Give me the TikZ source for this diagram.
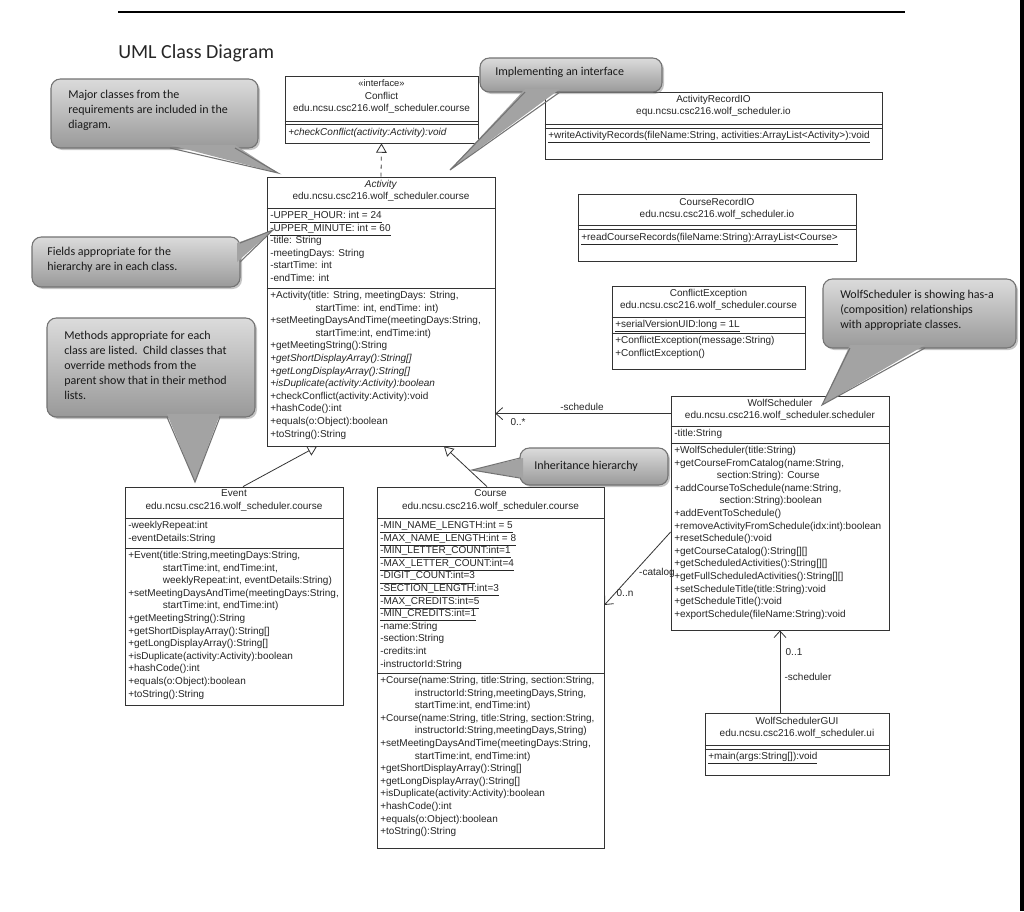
\documentclass[tikz,border=0pt]{standalone}
\usepackage{fontspec}
\usetikzlibrary{arrows.meta,fit,calc,shadows}
\newfontfamily\umlff{Liberation Sans}
\newfontfamily\calff{Carlito}
\newcommand\uf{\umlff\fontsize{7.5}{9.45}\selectfont}
\newcommand\cf{\calff\fontsize{9}{11.3}\selectfont}
\newcommand\cbox[5]{\node[cls, fit={(#2,#3) (#4,#5)}] (#1) {};}
\newcommand\csep[2]{\draw[clsline] (#1.west |- 0,#2) -- (#1.east |- 0,#2);}
\begin{document}
\begin{tikzpicture}[x=0.75pt,y=-0.75pt,
  cls/.style={draw=black!80, line width=0.6pt, inner sep=0pt},
  clsline/.style={draw=black!80, line width=0.6pt},
  uml/.style={font=\uf, inner sep=0pt, align=left, text=black!85},
  umlc/.style={font=\uf, inner sep=0pt, align=center, text=black!85},
  inh/.style={draw=black!80, line width=0.6pt, -{Triangle[open,length=7pt,width=8pt]}},
  assoc/.style={draw=black!80, line width=0.6pt, -{Straight Barb[length=5pt,width=9pt]}},
  lbl/.style={font=\uf, inner sep=0pt, text=black!85},
  call/.style={draw=black!55, line width=0.8pt, rounded corners=7pt, top color=black!14, bottom color=black!40, drop shadow={opacity=0.45, shadow xshift=1.5pt, shadow yshift=-1.5pt}},
  ptr/.style={fill=black!36},
  ptre/.style={draw=black!55, line width=0.8pt},
  ctext/.style={font=\cf, inner sep=0pt, align=left, text=black!90}]
\useasboundingbox[fill=white] (0,0) rectangle (1024,911);
\draw[line width=1pt] (118,12) -- (905,12);
\draw[line width=3pt] (1022,0) -- (1022,911);
\node[anchor=base west, inner sep=0pt, font=\calff\fontsize{15}{18}\selectfont, text=black!85] (title) at (118,58) {UML Class Diagram};

% ---------- Conflict
\cbox{conf}{285}{76}{478}{143}
\csep{conf}{121}\csep{conf}{124}
\node[umlc, anchor=north] at ($(conf.north)+(0,4)$) {\fontsize{7}{9.45}\selectfont «interface»\\Conflict\\edu.ncsu.csc216.wolf\_scheduler.course};
\node[uml, anchor=north west] at (288,128) {\textit{+checkConflict(activity:Activity):void}};

% ---------- Activity
\cbox{act}{267}{177}{495}{446}
\csep{act}{208}\csep{act}{288}
\node[umlc, anchor=north] at ($(act.north)+(0,3)$) {\textit{Activity}\\edu.ncsu.csc216.wolf\_scheduler.course};
\node[uml, anchor=north west] at (270,211) {\underline{-UPPER\_HOUR: int = 24}\\\underline{-UPPER\_MINUTE: int = 60}\\-title: String\\-meetingDays: String\\-startTime: int\\-endTime: int};
\node[uml, anchor=north west] at (270,291) {+Activity(title: String, meetingDays: String,\\\hspace*{34pt}startTime: int, endTime: int)\\+setMeetingDaysAndTime(meetingDays:String,\\\hspace*{34pt}startTime:int, endTime:int)\\+getMeetingString():String\\\textit{+getShortDisplayArray():String[]}\\\textit{+getLongDisplayArray():String[]}\\\textit{+isDuplicate(activity:Activity):boolean}\\+checkConflict(activity:Activity):void\\+hashCode():int\\+equals(o:Object):boolean\\+toString():String};

% ---------- ActivityRecordIO
\cbox{ario}{545}{92}{882}{159}
\csep{ario}{124}\csep{ario}{128}
\node[umlc, anchor=north] at ($(ario.north)+(0,3)$) {ActivityRecordIO\\equ.ncsu.csc216.wolf\_scheduler.io};
\node[uml, anchor=north west] at (548,131) {\underline{+writeActivityRecords(fileName:String, activities:ArrayList<Activity>):void}};

% ---------- CourseRecordIO
\cbox{crio}{578}{194}{856}{261}
\csep{crio}{225}\csep{crio}{229}
\node[umlc, anchor=north] at ($(crio.north)+(0,4)$) {CourseRecordIO\\edu.ncsu.csc216.wolf\_scheduler.io};
\node[uml, anchor=north west] at (581,233) {\underline{+readCourseRecords(fileName:String):ArrayList<Course>}};

% ---------- ConflictException
\cbox{cex}{612}{286}{805}{369}
\csep{cex}{317}\csep{cex}{333}
\node[umlc, anchor=north] at ($(cex.north)+(0,3)$) {ConflictException\\edu.ncsu.csc216.wolf\_scheduler.course};
\node[uml, anchor=north west] at (615,320) {\underline{+serialVersionUID:long = 1L}};
\node[uml, anchor=north west] at (615,336) {+ConflictException(message:String)\\+ConflictException()};

% ---------- WolfScheduler
\cbox{ws}{671}{396}{889}{630}
\csep{ws}{426}\csep{ws}{443}
\node[umlc, anchor=north] at ($(ws.north)+(0,3)$) {WolfScheduler\\edu.ncsu.csc216.wolf\_scheduler.scheduler};
\node[uml, anchor=north west] at (674,429) {-title:String};
\node[uml, anchor=north west] at (674,446) {+WolfScheduler(title:String)\\+getCourseFromCatalog(name:String,\\\hspace*{32pt}section:String): Course\\+addCourseToSchedule(name:String,\\\hspace*{34pt}section:String):boolean\\+addEventToSchedule()\\+removeActivityFromSchedule(idx:int):boolean\\+resetSchedule():void\\+getCourseCatalog():String[][]\\+getScheduledActivities():String[][]\\+getFullScheduledActivities():String[][]\\+setScheduleTitle(title:String):void\\+getScheduleTitle():void\\+exportSchedule(fileName:String):void};

% ---------- WolfSchedulerGUI
\cbox{gui}{705}{713}{889}{775}
\csep{gui}{745}\csep{gui}{749}
\node[umlc, anchor=north] at ($(gui.north)+(0,4)$) {WolfSchedulerGUI\\edu.ncsu.csc216.wolf\_scheduler.ui};
\node[uml, anchor=north west] at (708,752) {\underline{+main(args:String[]):void}};

% ---------- Event
\cbox{ev}{125}{487}{343}{705}
\csep{ev}{518}\csep{ev}{548}
\node[umlc, anchor=north] at ($(ev.north)+(0,3)$) {Event\\edu.ncsu.csc216.wolf\_scheduler.course};
\node[uml, anchor=north west] at (128,521) {-weeklyRepeat:int\\-eventDetails:String};
\node[uml, anchor=north west] at (128,551) {+Event(title:String,meetingDays:String,\\\hspace*{26pt}startTime:int, endTime:int,\\\hspace*{26pt}weeklyRepeat:int, eventDetails:String)\\+setMeetingDaysAndTime(meetingDays:String,\\\hspace*{26pt}startTime:int, endTime:int)\\+getMeetingString():String\\+getShortDisplayArray():String[]\\+getLongDisplayArray():String[]\\+isDuplicate(activity:Activity):boolean\\+hashCode():int\\+equals(o:Object):boolean\\+toString():String};

% ---------- Course
\cbox{crs}{377}{487}{604}{848}
\csep{crs}{518}\csep{crs}{673}
\node[umlc, anchor=north] at ($(crs.north)+(0,3)$) {Course\\edu.ncsu.csc216.wolf\_scheduler.course};
\node[uml, anchor=north west] at (380,521) {\underline{-MIN\_NAME\_LENGTH:int = 5}\\\underline{-MAX\_NAME\_LENGTH:int = 8}\\\underline{-MIN\_LETTER\_COUNT:int=1}\\\underline{-MAX\_LETTER\_COUNT:int=4}\\\underline{-DIGIT\_COUNT:int=3}\\\underline{-SECTION\_LENGTH:int=3}\\\underline{-MAX\_CREDITS:int=5}\\\underline{-MIN\_CREDITS:int=1}\\-name:String\\-section:String\\-credits:int\\-instructorId:String};
\node[uml, anchor=north west] at (380,676) {+Course(name:String, title:String, section:String,\\\hspace*{26pt}instructorId:String,meetingDays,String,\\\hspace*{26pt}startTime:int, endTime:int)\\+Course(name:String, title:String, section:String,\\\hspace*{26pt}instructorId:String,meetingDays,String)\\+setMeetingDaysAndTime(meetingDays:String,\\\hspace*{26pt}startTime:int, endTime:int)\\+getShortDisplayArray():String[]\\+getLongDisplayArray():String[]\\+isDuplicate(activity:Activity):boolean\\+hashCode():int\\+equals(o:Object):boolean\\+toString():String};

% ---------- connectors
\draw[inh, dashed] (act.north) -- (conf.south);
\draw[inh] ($(ev.north)+(9,0)$) -- ($(act.south)+(-64,0)$);
\draw[inh] ($(crs.north)+(-3.5,0)$) -- ($(act.south)+(63,0)$);
\draw[assoc] ($(ws.north west)+(0,18)$) -- ($(act.north east)+(0,237)$);
\node[lbl] at (582,407) {-schedule};
\node[lbl] at (518,422) {0..*};
\draw[assoc] ($(ws.west)+(0,19)$) -- ($(crs.east)+(0,-62.5)$);
\node[lbl] at (657,573) {-catalog};
\node[lbl] at (625,593) {0..n};
\draw[assoc] (gui.north -| ws.south) -- (ws.south);
\node[lbl] at (794,652) {0..1};
\node[lbl] at (808,677) {-scheduler};

% ---------- callouts
\node[call, fit={(51,79) (258,148)}, inner sep=0pt] (c1) {};
\path[ptr] (170,145) -- (278,173) -- (235,145) -- cycle;
\draw[ptre] (170,148) -- (278,173) -- (235,148);
\node[ctext, anchor=north west] at (68,90) {Major classes from the\\requirements are included in the\\diagram.};

\node[call, fit={(480,58) (662,92)}, inner sep=0pt] (c2) {};
\path[ptr] (525,89) -- (450,170) -- (560,89) -- cycle;
\draw[ptre] (525,92) -- (450,170) -- (560,92);
\node[ctext, anchor=north west] at (495,67) {Implementing an interface};

\node[call, fit={(32,237) (240,287)}, inner sep=0pt] (c3) {};
\path[ptr] (237,243) -- (273,230) -- (237,262) -- cycle;
\draw[ptre] (240,243) -- (273,230) -- (240,262);
\node[ctext, anchor=north west] at (47,247) {Fields appropriate for the\\hierarchy are in each class.};

\node[call, fit={(47,318) (255,417)}, inner sep=0pt] (c4) {};
\path[ptr] (167,414) -- (195,482) -- (220,414) -- cycle;
\draw[ptre] (167,417) -- (195,482) -- (220,417);
\node[ctext, anchor=north west] at (64,331) {Methods appropriate for each\\class are listed.\ \ Child classes that\\override methods from the\\parent show that in their method\\lists.};

\node[call, fit={(520,448) (668,485)}, inner sep=0pt] (c5) {};
\path[ptr] (523,458) -- (472,470) -- (523,478) -- cycle;
\draw[ptre] (520,458) -- (472,470) -- (520,478);
\node[ctext, anchor=west] at (534,466) {Inheritance hierarchy};

\node[call, fit={(823,279) (1016,348)}, inner sep=0pt] (c6) {};
\path[ptr] (850,345) -- (822,405) -- (925,345) -- cycle;
\draw[ptre] (850,348) -- (822,405) -- (925,348);
\node[ctext, anchor=north west] at (840,290) {WolfScheduler is showing has-a\\(composition) relationships\\with appropriate classes.};
\end{tikzpicture}
\end{document}
